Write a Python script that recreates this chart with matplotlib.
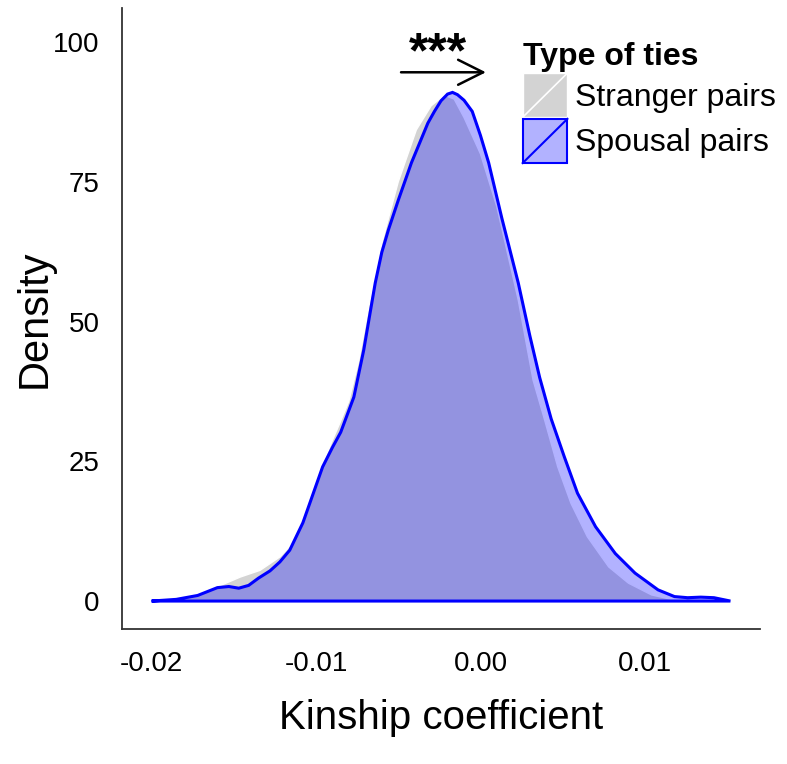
import matplotlib as mpl
mpl.use('Agg')
import matplotlib.pyplot as plt
from matplotlib.patches import Rectangle, Patch
from matplotlib.lines import Line2D
from matplotlib.legend_handler import HandlerBase

plt.rcParams['font.family'] = ['Liberation Sans', 'DejaVu Sans']

# density curves
stranger_x = [-0.0200, -0.0185, -0.0170, -0.0158, -0.0146, -0.0134, -0.0122, -0.0116,
              -0.0108, -0.0102, -0.0096, -0.0090, -0.0085, -0.0080, -0.0074, -0.0068,
              -0.0060, -0.0050, -0.0039, -0.0030, -0.0022, -0.0016, -0.0010, 0.0000,
              0.0010, 0.0023, 0.0032, 0.0039, 0.0047, 0.0055, 0.0065, 0.0078,
              0.0090, 0.0104, 0.0116, 0.0130, 0.0152]
stranger_y = [0, 0.4, 1.3, 2.8, 4.3, 5.5, 7.9, 9.8,
              14.5, 19.5, 24.5, 28.8, 32.2, 35.8, 43.0, 52.5,
              64.0, 75.0, 84.3, 88.6, 90.5, 89.8, 86.5, 80.0,
              70.5, 53.8, 39.5, 32.4, 24.0, 17.5, 11.5, 6.1,
              3.2, 1.1, 0.3, 0.1, 0]

spousal_x = [-0.0200, -0.0185, -0.0172, -0.0160, -0.0153, -0.0147, -0.0141, -0.0135,
             -0.0128, -0.0122, -0.0116, -0.0108, -0.0102, -0.0096, -0.0090, -0.0085,
             -0.0077, -0.0071, -0.0064, -0.0060, -0.0056, -0.0050, -0.0042, -0.0032,
             -0.0028, -0.0024, -0.0020, -0.0017, -0.0014, -0.0010, -0.0005, 0.0000,
             0.0005, 0.0013, 0.0023, 0.0030, 0.0036, 0.0043, 0.0051, 0.0059,
             0.0070, 0.0082, 0.0094, 0.0108, 0.0118, 0.0126, 0.0134, 0.0142,
             0.0152]
spousal_y = [0, 0.3, 1.0, 2.4, 2.6, 2.3, 2.8, 4.1,
             5.4, 7.0, 9.1, 14.0, 19.0, 24.0, 27.5, 30.2,
             36.5, 44.9, 56.9, 62.4, 66.4, 71.7, 78.4, 85.5,
             87.6, 89.5, 90.7, 91.0, 90.6, 89.6, 87.6, 83.3,
             78.4, 68.5, 56.9, 47.5, 40.0, 32.6, 25.8, 19.3,
             13.3, 8.5, 5.0, 2.0, 0.8, 0.6, 0.7, 0.6,
             0]

xticks = [-0.02, -0.01, 0.00, 0.01]
xticklabels = ["-0.02", "-0.01", "0.00", "0.01"]
yticks = [0, 25, 50, 75, 100]

gray = "#d3d3d3"
blue_fill = (0, 0, 1, 0.3)


class DiagKey(HandlerBase):
    # legend key: filled box with a diagonal stroke, like ggplot's key
    def create_artists(self, legend, orig, xd, yd, w, h, fontsize, trans):
        box = Rectangle((-xd, -yd), w, h, facecolor=orig.get_facecolor(),
                        edgecolor=orig.get_edgecolor(), lw=orig.get_linewidth(),
                        transform=trans)
        diag = Line2D([-xd, -xd + w], [-yd, -yd + h], color=orig.get_edgecolor(),
                      lw=max(orig.get_linewidth(), 1.2), transform=trans)
        return [box, diag]


fig = plt.figure(figsize=(7.87, 7.64), dpi=100)
ax = fig.add_axes([122/787, 135/764, 638/787, 621/764])

ax.fill(stranger_x, stranger_y, facecolor=gray, edgecolor="white", lw=1.0)
ax.fill(spousal_x, spousal_y, facecolor=blue_fill, edgecolor="blue", lw=2.2)

ax.set_xlim(-0.0218, 0.0170)
ax.set_ylim(-5.0, 106.1)
ax.set_xticks(xticks)
ax.set_xticklabels(xticklabels)
ax.set_yticks(yticks)
ax.tick_params(length=0, labelsize=20, colors="black")
ax.tick_params(axis='x', pad=16)
ax.tick_params(axis='y', pad=16)
for s in ["top", "right"]:
    ax.spines[s].set_visible(False)
for s in ["left", "bottom"]:
    ax.spines[s].set_color("#333333")
    ax.spines[s].set_linewidth(1.3)

ax.set_xlabel("Kinship coefficient", fontsize=29, labelpad=16)
ax.set_ylabel("Density", fontsize=30, labelpad=-1)

# significance arrow
ax.annotate("", xy=(0.0005, 94.6), xytext=(-0.0050, 94.6),
            arrowprops=dict(arrowstyle="->", lw=1.8, color="black", mutation_scale=45))
ax.text(-0.0026, 97.8, "***", fontsize=36, fontweight="bold", ha="center", va="center")

handles = [Patch(facecolor=gray, edgecolor="white", lw=1.0, label="Stranger pairs"),
           Patch(facecolor=blue_fill, edgecolor="blue", lw=1.5, label="Spousal pairs")]
leg = ax.legend(handles=handles, handler_map={Patch: DiagKey()},
                loc="upper left", bbox_to_anchor=(0.628, 0.946), frameon=False,
                title="Type of ties", title_fontproperties={"weight": "bold", "size": 23},
                fontsize=23, alignment="left", handlelength=1.4, handleheight=1.75,
                handletextpad=0.25, labelspacing=0.05, borderaxespad=0, borderpad=0)

fig.savefig("out.png", dpi=100)
